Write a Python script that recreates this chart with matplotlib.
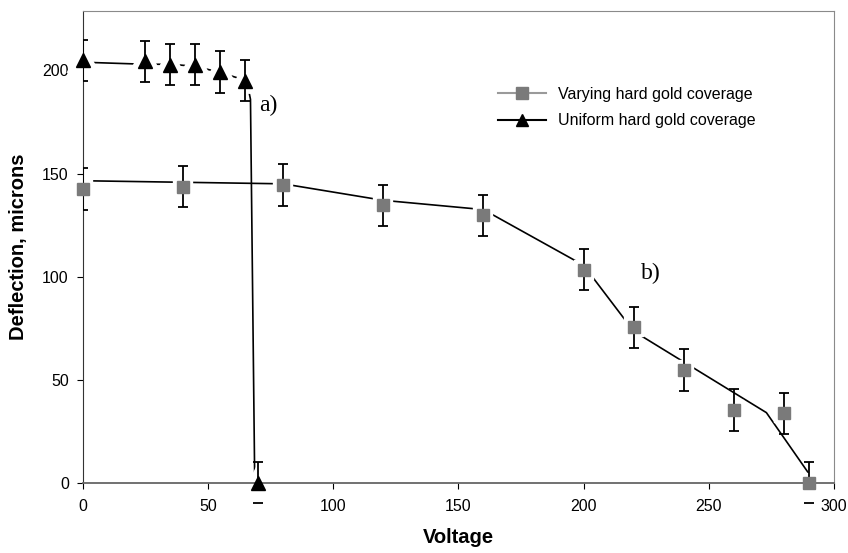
import matplotlib
matplotlib.use("Agg")
import matplotlib.pyplot as plt
from matplotlib.lines import Line2D

plt.rcParams["font.family"] = ["Liberation Sans", "DejaVu Sans"]

# Varying hard gold coverage (squares)
volt_var = [0, 40, 80, 120, 160, 200, 220, 240, 260, 280, 290]
defl_var = [142.5, 143.7, 144.4, 134.5, 129.7, 103.4, 75.3, 54.7, 35.3, 33.7, 0]
err_var = [10, 10, 10, 10, 10, 10, 10, 10, 10, 10, 10]
# hand drawn trend line through the squares
trend_var_x = [0, 80, 120, 160, 200, 220, 273, 292.5]
trend_var_y = [146.5, 145, 137, 132.5, 105.5, 73.5, 34, 0]

# Uniform hard gold coverage (triangles)
volt_uni = [0, 25, 35, 45, 55, 65, 70]
defl_uni = [205, 204.5, 202.8, 202.8, 199.3, 195, 0]
err_uni = [10, 10, 10, 10, 10, 10, 10]
trend_uni_x = [0, 25, 35, 45, 55, 65.5, 67, 68.7]
trend_uni_y = [204, 203, 203, 202, 199, 195, 186, 0]

GRAY = "#7a7a7a"

fig = plt.figure(figsize=(8.48, 5.53), dpi=100)
ax = fig.add_axes([0.0975, 0.1271, 0.886, 0.8536])

# trend lines
ax.plot(trend_var_x, trend_var_y, color="black", lw=1.2, zorder=1)
ax.plot(trend_uni_x, trend_uni_y, color="black", lw=1.2, zorder=1)

# white halo around markers (gaps in lines)
ax.plot(volt_var, defl_var, ls="none", marker="s", ms=8.6, mfc="white",
        mec="white", mew=6, zorder=2, clip_on=False)
ax.plot(volt_uni, defl_uni, ls="none", marker="^", ms=9.5, mfc="white",
        mec="white", mew=8.5, zorder=2, clip_on=False)

# error bars
ax.errorbar(volt_var, defl_var, yerr=err_var, fmt="none", ecolor="black",
            elinewidth=1.3, capsize=3.6, capthick=1.3, zorder=2.6)
ax.errorbar(volt_uni, defl_uni, yerr=err_uni, fmt="none", ecolor="black",
            elinewidth=1.3, capsize=3.6, capthick=1.3, zorder=2.6)

# lower caps of the points sitting on zero show below the axis
low_x = [volt_uni[-1], volt_var[-1]]
low_y = [defl_uni[-1] - err_uni[-1], defl_var[-1] - err_var[-1]]
ax.plot(low_x, low_y, ls="none", marker="_", ms=7.2, mew=1.3, color="black",
        clip_on=False, zorder=3)

# markers
ax.plot(volt_var, defl_var, ls="none", marker="s", ms=8.6, color=GRAY,
        mec=GRAY, zorder=3, clip_on=False)
ax.plot(volt_uni, defl_uni, ls="none", marker="^", ms=9.5, color="black",
        zorder=3, clip_on=False)

ax.set_xlim(0, 300)
ax.set_ylim(0, 229)
ax.set_xticks([0, 50, 100, 150, 200, 250, 300])
ax.set_yticks([0, 50, 100, 150, 200])
ax.tick_params(axis="both", direction="out", length=4, width=0.8,
               labelsize=11.5, colors="black")
ax.tick_params(axis="x", pad=8)
ax.tick_params(axis="y", pad=6)

for side in ["top", "right"]:
    ax.spines[side].set_color("#8a8a8a")
    ax.spines[side].set_linewidth(0.8)
ax.spines["left"].set_color("#333333")
ax.spines["bottom"].set_color("#666666")
ax.spines["bottom"].set_linewidth(1.3)

ax.set_xlabel("Voltage", fontsize=14.5, fontweight="bold", labelpad=10)
ax.set_ylabel("Deflection, microns", fontsize=14.5, fontweight="bold",
              labelpad=10)

ax.text(70.5, 183, "a)", family=["Liberation Serif", "DejaVu Serif"],
        fontsize=17, va="center", ha="left")
ax.text(223, 101.5, "b)", family=["Liberation Serif", "DejaVu Serif"],
        fontsize=17, va="center", ha="left")

handles = [
    Line2D([], [], color="#9a9a9a", lw=1.5, marker="s", ms=8.6, mfc=GRAY,
           mec=GRAY),
    Line2D([], [], color="black", lw=1.5, marker="^", ms=8, mfc="black"),
]
labels = ["Varying hard gold coverage", "Uniform hard gold coverage"]
fig.legend(handles, labels, loc="upper left",
           bbox_to_anchor=(498 / 848, 1 - 87 / 553), frameon=False,
           fontsize=11.5, handlelength=3.0, handletextpad=0.75,
           labelspacing=0.7, borderpad=0, borderaxespad=0)

plt.savefig("out.png", dpi=100)
plt.close()
